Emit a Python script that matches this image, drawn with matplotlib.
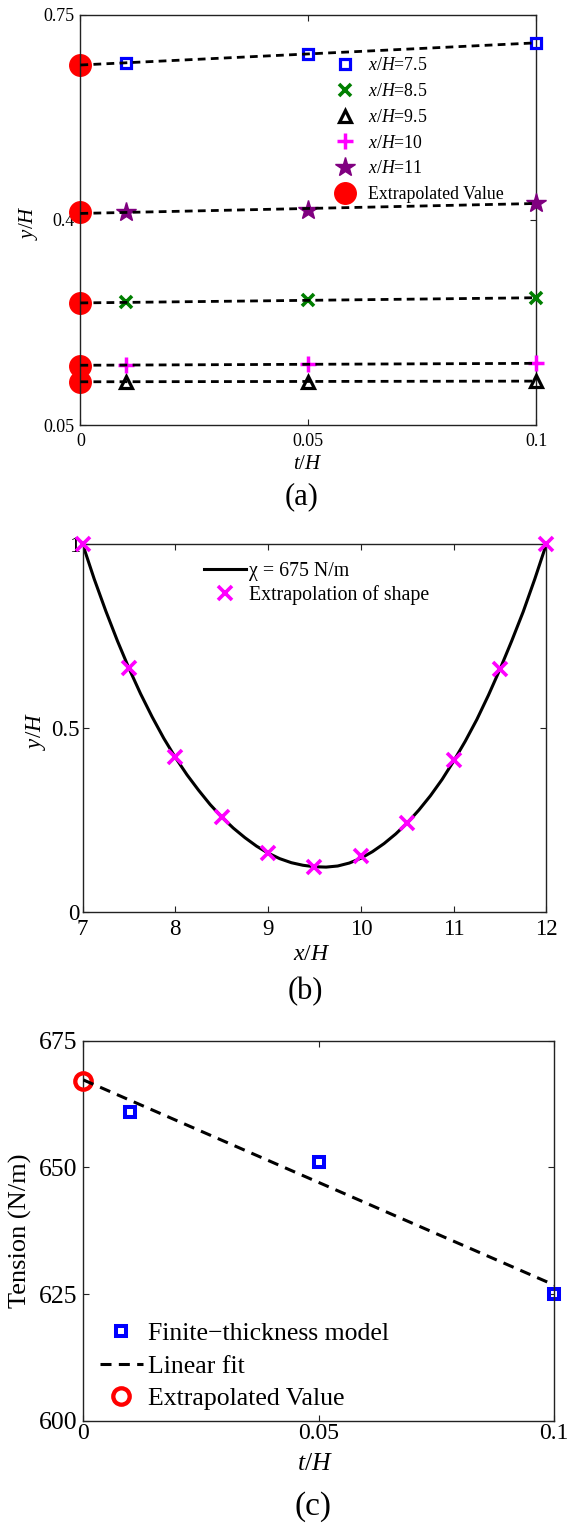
import numpy as np
import matplotlib
matplotlib.use("Agg")
import matplotlib.pyplot as plt
from matplotlib.ticker import FormatStrFormatter

plt.rcParams['font.family'] = ['Liberation Serif', 'DejaVu Serif']
plt.rcParams['mathtext.fontset'] = 'custom'
plt.rcParams['mathtext.rm'] = 'Liberation Serif'
plt.rcParams['mathtext.it'] = 'Liberation Serif:italic'

# ---- (a) interface height at several stations vs. thickness ----
t_a = [0.01, 0.05, 0.1]
y_75 = [0.668, 0.683, 0.702]
y_85 = [0.259, 0.263, 0.267]
y_95 = [0.124, 0.124, 0.125]
y_10 = [0.152, 0.154, 0.155]
y_11 = [0.414, 0.417, 0.429]
y_extrap = [0.665, 0.258, 0.124, 0.151, 0.413]

# ---- (b) extrapolated shape vs. model with chi = 675 N/m ----
x_shape = [7, 7.5, 8, 8.5, 9, 9.5, 10, 10.5, 11, 11.5, 12]
y_shape = [1.0, 0.662, 0.420, 0.257, 0.160, 0.123, 0.151, 0.242, 0.412, 0.659, 1.0]
x_model = [7.0, 7.125, 7.25, 7.375, 7.5, 7.625, 7.75, 7.875, 8.0, 8.125, 8.25, 8.375,
           8.5, 8.625, 8.75, 8.875, 9.0, 9.125, 9.25, 9.375, 9.5, 9.625, 9.75, 9.875,
           10.0, 10.125, 10.25, 10.375, 10.5, 10.625, 10.75, 10.875, 11.0, 11.125,
           11.25, 11.375, 11.5, 11.625, 11.75, 11.875, 12.0]
y_model = [1.000, 0.905, 0.818, 0.737, 0.662, 0.593, 0.530, 0.472, 0.420, 0.373,
           0.331, 0.292, 0.258, 0.228, 0.202, 0.179, 0.160, 0.145, 0.134, 0.127,
           0.123, 0.122, 0.125, 0.133, 0.146, 0.164, 0.186, 0.212, 0.242, 0.277,
           0.316, 0.360, 0.410, 0.464, 0.523, 0.589, 0.660, 0.736, 0.816, 0.905, 1.000]

# ---- (c) tension vs. thickness ----
t_c = [0.01, 0.05, 0.1]
tension = [661, 651, 625]
tension_extrap = 667

W, H = 567, 1527
fig = plt.figure(figsize=(W / 100, H / 100), dpi=100)


def px_axes(left, top, right, bottom):
    return fig.add_axes([left / W, 1 - bottom / H, (right - left) / W, (bottom - top) / H])


def style_axes(ax, size, xpad, ypad):
    for s in ax.spines.values():
        s.set_linewidth(1.0)
        s.set_color('#222222')
    ax.tick_params(direction='in', top=True, right=True, length=4, width=0.8,
                   labelsize=size, color='#222222')
    ax.tick_params(axis='x', pad=xpad)
    ax.tick_params(axis='y', pad=ypad)


# ================= (a) =================
ax1 = px_axes(80.4, 14.7, 536.2, 425)
series = [
    (y_75, 's', '#0000ff', dict(ms=7.5, mew=2.3, mfc='none'), '7.5'),
    (y_85, 'x', '#007f00', dict(ms=9, mew=2.6), '8.5'),
    (y_95, '^', 'black', dict(ms=9, mew=2.3, mfc='none'), '9.5'),
    (y_10, '+', '#ff00ff', dict(ms=12, mew=2.5), '10'),
    (y_11, '*', '#800080', dict(ms=15, mew=1), '11'),
]
for vals, m, c, kw, lab in series:
    ax1.plot(t_a, vals, linestyle='none', marker=m, color=c, label=r'$x/H$=' + lab,
             zorder=3, clip_on=False, **kw)
ax1.plot([0] * len(y_extrap), y_extrap, linestyle='none', marker='o', color='#ff0000',
         ms=15.5, label='Extrapolated Value', zorder=2, clip_on=False)
for vals, *_ in series:
    k, b = np.polyfit(t_a, vals, 1)
    ax1.plot([0, 0.1], [b, k * 0.1 + b], color='black', lw=2, dashes=(2.8, 1.9), zorder=4)

ax1.set_xlim(0, 0.1)
ax1.set_ylim(0.05, 0.75)
ax1.set_xticks([0, 0.05, 0.1])
ax1.set_yticks([0.05, 0.4, 0.75])
ax1.xaxis.set_major_formatter(FormatStrFormatter('%g'))
ax1.yaxis.set_major_formatter(FormatStrFormatter('%g'))
style_axes(ax1, 13, 6, 4)
ax1.legend(loc='upper left', bbox_to_anchor=(327 / W, 1 - 57.5 / H),
           bbox_transform=fig.transFigure, frameon=False, fontsize=12.8,
           borderpad=0, borderaxespad=0, handlelength=2.0, handletextpad=0.28,
           labelspacing=0.49, numpoints=1)
fig.text(308 / W, 1 - 464.5 / H, r'$t/H$', fontsize=15, ha='center', va='center')
fig.text(29 / W, 1 - 223 / H, r'$y/H$', fontsize=15, ha='center', va='center', rotation=90)
fig.text(302 / W, 1 - 497 / H, '(a)', fontsize=22, ha='center', va='center')

# ================= (b) =================
ax2 = px_axes(82.6, 544, 546.4, 912)
ax2.plot(x_model, y_model, color='black', lw=2.2, label=u'\u03c7 = 675 N/m', zorder=2)
ax2.plot(x_shape, y_shape, linestyle='none', marker='x', color='#ff00ff', ms=10, mew=2.6,
         label='Extrapolation of shape', zorder=3, clip_on=False)
ax2.set_xlim(7, 12)
ax2.set_ylim(0, 1)
ax2.set_xticks([7, 8, 9, 10, 11, 12])
ax2.set_yticks([0, 0.5, 1])
ax2.yaxis.set_major_formatter(FormatStrFormatter('%g'))
style_axes(ax2, 16.5, 5, 2)
ax2.legend(loc='upper left', bbox_to_anchor=(203.6 / W, 1 - 562 / H),
           bbox_transform=fig.transFigure, frameon=False, fontsize=14.3,
           borderpad=0, borderaxespad=0, handlelength=2.15, handletextpad=0.15,
           labelspacing=0.22, numpoints=1)
fig.text(311.6 / W, 1 - 955 / H, r'$x/H$', fontsize=17, ha='center', va='center')
fig.text(36.5 / W, 1 - 731 / H, r'$y/H$', fontsize=16.5, ha='center', va='center', rotation=90)
fig.text(305 / W, 1 - 992 / H, '(b)', fontsize=22, ha='center', va='center')

# ================= (c) =================
ax3 = px_axes(83.3, 1040.7, 554.3, 1420.7)
ax3.plot(t_c, tension, linestyle='none', marker='s', color='#0000ff', mfc='none',
         ms=7.7, mew=2.9, label='Finite\u2212thickness model', zorder=2, clip_on=False)
k, b = np.polyfit(t_c, tension, 1)
ax3.plot([0, 0.1], [b, k * 0.1 + b], color='black', lw=2.2, dashes=(3.6, 2.4),
         label='Linear fit', zorder=4)
ax3.plot([0], [tension_extrap], linestyle='none', marker='o', color='#ff0000', mfc='none',
         ms=11.8, mew=3.1, label='Extrapolated Value', zorder=3, clip_on=False)
ax3.set_xlim(0, 0.1)
ax3.set_ylim(600, 675)
ax3.set_xticks([0, 0.05, 0.1])
ax3.set_yticks([600, 625, 650, 675])
ax3.xaxis.set_major_formatter(FormatStrFormatter('%g'))
style_axes(ax3, 18.5, 2, 4)
ax3.tick_params(axis='x', labelsize=17)
ax3.legend(loc='upper left', bbox_to_anchor=(99.6 / W, 1 - 1322.5 / H),
           bbox_transform=fig.transFigure, frameon=False, fontsize=18.5,
           borderpad=0, borderaxespad=0, handlelength=1.69, handletextpad=0.19,
           labelspacing=0.36, numpoints=1)
fig.text(315 / W, 1 - 1464 / H, r'$t/H$', fontsize=18.5, ha='center', va='center')
fig.text(20 / W, 1 - 1231 / H, 'Tension (N/m)', fontsize=19, ha='center', va='center',
         rotation=90)
fig.text(313 / W, 1 - 1507 / H, '(c)', fontsize=24, ha='center', va='center')

fig.savefig('out.png', dpi=100)
